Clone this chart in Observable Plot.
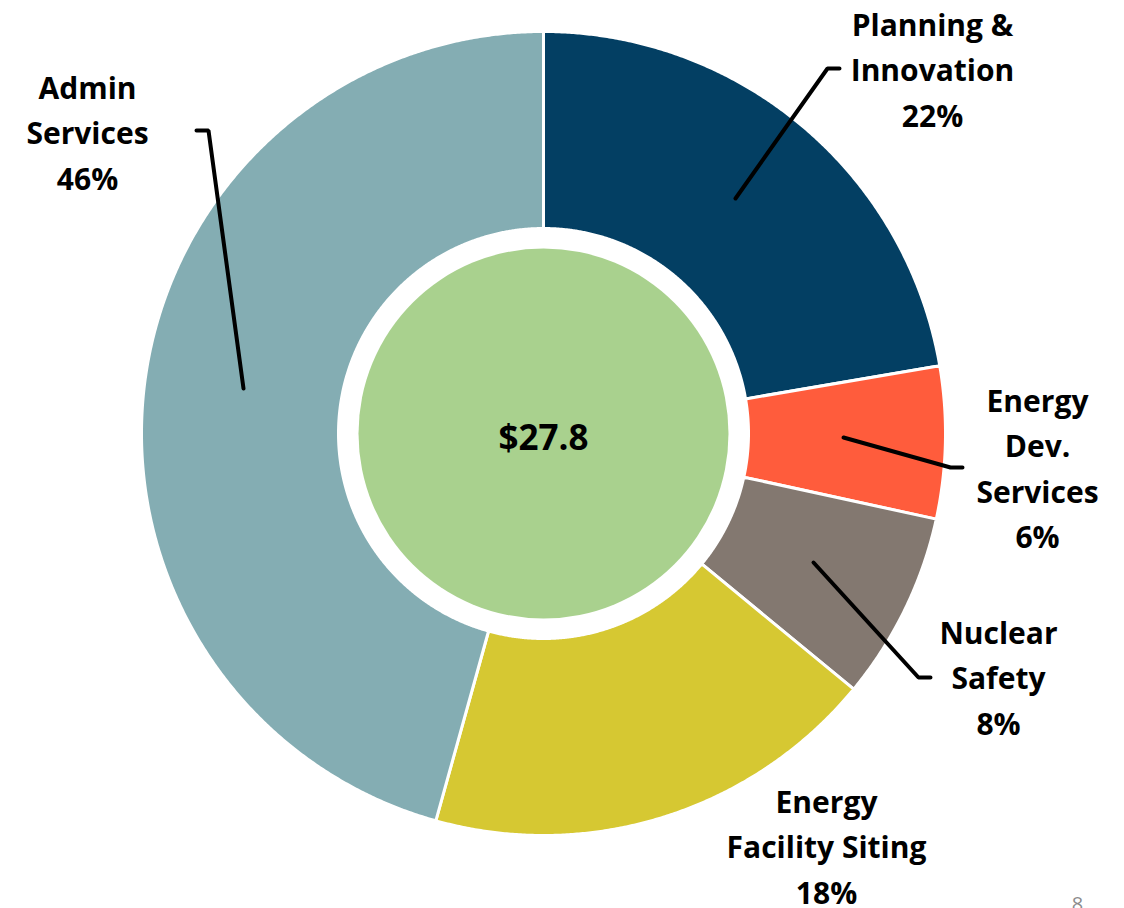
<!DOCTYPE html>
<html>
<head>
<meta charset="utf-8">
<script src="https://cdn.jsdelivr.net/npm/d3@7"></script>
<script src="https://cdn.jsdelivr.net/npm/@observablehq/plot@0.6"></script>
<style>
  html, body { margin: 0; padding: 0; background: #ffffff; }
  #chart svg { display: block; }
</style>
</head>
<body>
<div id="chart"></div>
<script>
// ---- Data ----
const categories = ["Planning & Innovation", "Energy Dev. Services", "Nuclear Safety", "Energy Facility Siting", "Admin Services"];
const labelText = ["Planning &\nInnovation", "Energy\nDev.\nServices", "Nuclear\nSafety", "Energy\nFacility Siting", "Admin\nServices"];
const values = [6.2, 1.7, 2.1, 5.1, 12.7]; // $ millions
const totalLabel = "$27.8";
const pageNumber = "8";

// ---- Styling / layout (not data) ----
const colors = ["#033f63", "#ff5c3c", "#837870", "#d6c832", "#84adb3"];
const centerColor = "#a9d18e";
const W = 1124, H = 908;
const cx = 543, cy = 433, R = 402, r0 = 205, rCenter = 185;
const FONT = "'Open Sans', Lato, sans-serif";

// label anchor positions and leader polylines (layout)
const labelLayout = [
  {x: 932, y: 66, leader: [[735, 198], [827, 68], [839, 68]]},
  {x: 1037, y: 465, leader: [[843, 437], [950, 467], [962, 467]]},
  {x: 998, y: 674, leader: [[813, 562], [918, 677], [930, 677]]},
  {x: 826, y: 843, leader: null},
  {x: 87, y: 129, leader: [[196, 130], [208, 130], [243, 388]]}
];

const total = d3.sum(values);
const pie = d3.pie().sort(null).value(d => d)(values);

// build slice polygons from pie angles
const slicePts = [];
pie.forEach((p, i) => {
  const n = Math.max(2, Math.ceil((p.endAngle - p.startAngle) / 0.005));
  for (let k = 0; k <= n; k++) {
    const a = p.startAngle + (p.endAngle - p.startAngle) * k / n;
    slicePts.push({cat: categories[i], x: cx + R * Math.sin(a), y: cy - R * Math.cos(a)});
  }
  for (let k = n; k >= 0; k--) {
    const a = p.startAngle + (p.endAngle - p.startAngle) * k / n;
    slicePts.push({cat: categories[i], x: cx + r0 * Math.sin(a), y: cy - r0 * Math.cos(a)});
  }
  slicePts.push({cat: categories[i], x: cx + R * Math.sin(p.startAngle), y: cy - R * Math.cos(p.startAngle)});
});

const labels = categories.map((c, i) => ({
  cat: c,
  text: labelText[i] + "\n" + Math.round(values[i] / total * 100) + "%",
  x: labelLayout[i].x, y: labelLayout[i].y
}));

const leaders = [];
labelLayout.forEach((l, i) => {
  if (l.leader) l.leader.forEach(([x, y]) => leaders.push({cat: categories[i], x, y}));
});

const chart = Plot.plot({
  width: W, height: H, margin: 0,
  style: {background: "#ffffff", fontFamily: FONT},
  x: {domain: [0, W], range: [0, W], axis: null},
  y: {domain: [0, H], range: [0, H], axis: null},
  color: {domain: categories, range: colors},
  marks: [
    Plot.line(slicePts, {x: "x", y: "y", z: "cat", fill: "cat", stroke: "#ffffff", strokeWidth: 3, curve: "linear"}),
    Plot.dot([{x: cx, y: cy}], {x: "x", y: "y", r: rCenter, fill: centerColor, stroke: "none"}),
    Plot.text([{x: cx, y: cy + 5}], {x: "x", y: "y", text: () => totalLabel, fontSize: 35, fontWeight: "bold", fill: "#000"}),
    Plot.line(leaders, {x: "x", y: "y", z: "cat", stroke: "#000", strokeWidth: 4, strokeLinejoin: "miter"}),
    Plot.text(labels, {x: "x", y: "y", text: "text", fontSize: 30, fontWeight: "bold", fill: "#000", lineHeight: 1.52, lineAnchor: "middle", textAnchor: "middle"}),
    Plot.text([{x: 1077, y: 904}], {x: "x", y: "y", text: () => pageNumber, fontSize: 20, fill: "#8c8c8c"})
  ]
});
document.getElementById("chart").appendChild(chart);
</script>
</body>
</html>
